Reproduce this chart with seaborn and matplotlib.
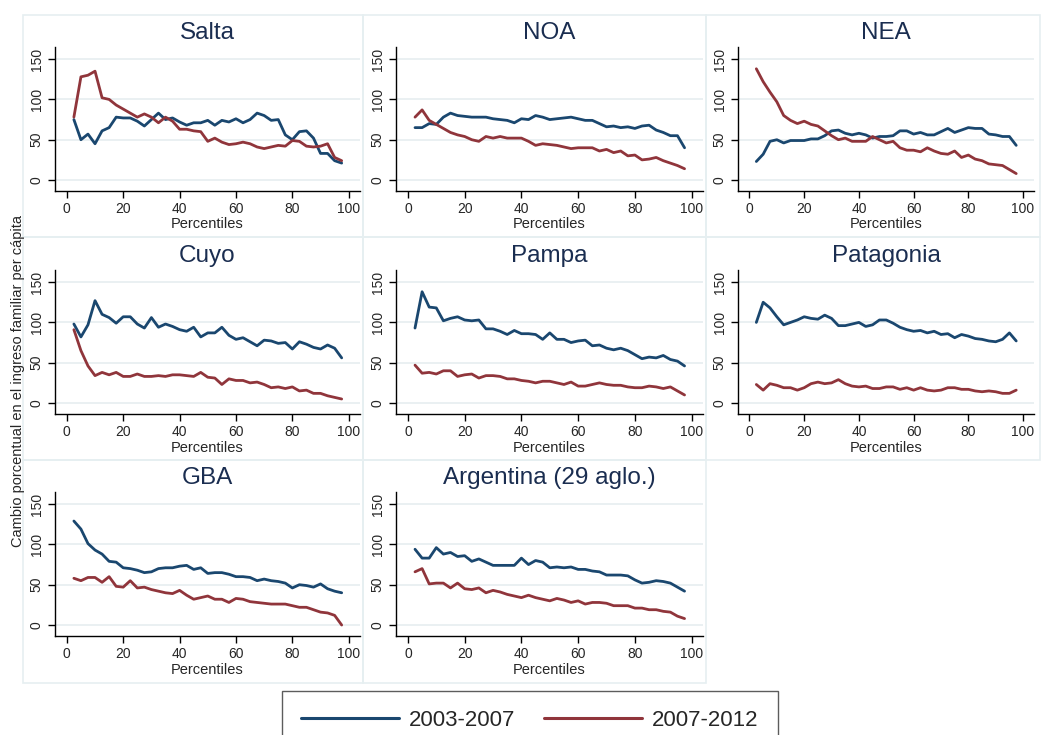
import numpy as np
import pandas as pd
import matplotlib
matplotlib.use("Agg")
import matplotlib.pyplot as plt
import seaborn as sns
from matplotlib.patches import Rectangle
from matplotlib.lines import Line2D

# Percentiles of the income distribution (x axis)
percentiles = [2.5, 5, 7.5, 10, 12.5, 15, 17.5, 20, 22.5, 25, 27.5, 30, 32.5,
               35, 37.5, 40, 42.5, 45, 47.5, 50, 52.5, 55, 57.5, 60, 62.5, 65,
               67.5, 70, 72.5, 75, 77.5, 80, 82.5, 85, 87.5, 90, 92.5, 95, 97.5]
periods = ["2003-2007", "2007-2012"]
regions = ["Salta", "NOA", "NEA", "Cuyo", "Pampa", "Patagonia", "GBA",
           "Argentina (29 aglo.)"]

salta_0307 = [75, 50, 57, 45, 61, 65, 78, 77, 77, 73, 67, 75, 83, 75, 77, 72, 68, 71, 71, 74,
              68, 74, 72, 76, 71, 75, 83, 80, 74, 75, 56, 50, 60, 61, 52, 33, 33, 24, 21]
salta_0712 = [78, 128, 130, 135, 102, 100, 93, 88, 83, 78, 82, 78, 71, 78, 73, 63, 63, 61, 60, 48,
              52, 47, 44, 45, 47, 45, 41, 39, 41, 43, 42, 49, 48, 42, 41, 42, 45, 28, 24]
noa_0307 = [65, 65, 70, 69, 78, 83, 80, 79, 78, 78, 78, 76, 75, 74, 71, 76, 75, 80, 78, 75,
            76, 77, 78, 76, 74, 74, 70, 66, 67, 65, 66, 64, 67, 68, 62, 59, 55, 55, 40]
noa_0712 = [78, 87, 74, 69, 64, 59, 56, 54, 50, 48, 54, 52, 54, 52, 52, 52, 48, 43, 45, 44,
            43, 41, 39, 40, 40, 40, 36, 38, 34, 36, 30, 31, 25, 26, 28, 24, 21, 18, 14]
nea_0307 = [23, 32, 48, 50, 46, 49, 49, 49, 51, 51, 55, 61, 62, 58, 56, 58, 56, 52, 54, 54,
            55, 61, 61, 57, 59, 56, 56, 60, 64, 59, 62, 65, 64, 64, 57, 56, 54, 54, 43]
nea_0712 = [138, 122, 109, 97, 80, 74, 70, 73, 69, 67, 61, 55, 50, 52, 48, 48, 48, 54, 50, 46,
            48, 40, 37, 37, 35, 40, 36, 33, 32, 36, 28, 31, 26, 24, 20, 19, 18, 13, 8]
cuyo_0307 = [98, 82, 97, 127, 110, 106, 99, 107, 107, 98, 93, 106, 94, 98, 95, 91, 89, 94, 82, 87,
             87, 94, 84, 79, 81, 76, 71, 78, 77, 74, 75, 67, 76, 73, 69, 67, 72, 68, 56]
cuyo_0712 = [91, 65, 46, 34, 38, 35, 38, 33, 33, 36, 33, 33, 34, 33, 35, 35, 34, 33, 38, 32,
             31, 23, 30, 28, 28, 25, 26, 23, 19, 20, 18, 20, 15, 16, 12, 12, 9, 7, 5]
pampa_0307 = [93, 138, 119, 118, 102, 105, 107, 103, 102, 103, 92, 92, 89, 85, 90, 86, 86, 85, 79, 87,
              79, 79, 75, 77, 78, 71, 72, 68, 66, 68, 65, 60, 55, 57, 56, 59, 54, 52, 46]
pampa_0712 = [47, 37, 38, 36, 40, 40, 33, 35, 36, 31, 34, 34, 33, 30, 30, 28, 27, 25, 27, 27,
              25, 23, 26, 21, 21, 23, 25, 23, 22, 22, 20, 19, 19, 21, 20, 18, 20, 15, 10]
patagonia_0307 = [100, 125, 118, 107, 97, 100, 103, 107, 105, 104, 109, 105, 96, 96, 98, 100, 95, 97, 103, 103,
                  99, 94, 91, 89, 90, 87, 89, 85, 86, 81, 85, 83, 80, 79, 77, 76, 79, 87, 77]
patagonia_0712 = [23, 16, 24, 22, 19, 19, 16, 19, 24, 26, 24, 25, 29, 24, 21, 20, 21, 18, 18, 20,
                  20, 17, 19, 16, 19, 16, 15, 16, 19, 19, 17, 17, 15, 14, 15, 14, 12, 12, 16]
gba_0307 = [129, 119, 101, 93, 88, 79, 78, 71, 70, 68, 65, 66, 70, 71, 71, 73, 74, 69, 71, 64,
            65, 65, 63, 60, 60, 59, 55, 57, 55, 54, 52, 46, 50, 49, 47, 51, 45, 42, 40]
gba_0712 = [58, 55, 59, 59, 53, 60, 48, 47, 55, 46, 47, 44, 42, 40, 39, 43, 37, 32, 34, 36,
            32, 32, 28, 33, 32, 29, 28, 27, 26, 26, 26, 24, 22, 22, 19, 16, 15, 12, 0]
argentina_0307 = [94, 83, 83, 96, 88, 90, 85, 86, 79, 82, 78, 74, 74, 74, 74, 83, 75, 80, 78, 71,
                  72, 71, 72, 69, 69, 67, 66, 62, 62, 62, 61, 56, 52, 53, 55, 54, 52, 47, 42]
argentina_0712 = [66, 70, 51, 52, 52, 46, 52, 45, 44, 46, 40, 43, 41, 38, 36, 34, 37, 34, 32, 30,
                  33, 31, 28, 30, 26, 28, 28, 27, 24, 24, 24, 21, 21, 19, 19, 17, 16, 11, 8]

series = {
    "Salta": (salta_0307, salta_0712),
    "NOA": (noa_0307, noa_0712),
    "NEA": (nea_0307, nea_0712),
    "Cuyo": (cuyo_0307, cuyo_0712),
    "Pampa": (pampa_0307, pampa_0712),
    "Patagonia": (patagonia_0307, patagonia_0712),
    "GBA": (gba_0307, gba_0712),
    "Argentina (29 aglo.)": (argentina_0307, argentina_0712),
}

rows = []
for region, pair in series.items():
    for period, vals in zip(periods, pair):
        for p, v in zip(percentiles, vals):
            rows.append((region, period, p, v))
df = pd.DataFrame(rows, columns=["region", "period", "percentil", "cambio"])

colors = {"2003-2007": "#1a476f", "2007-2012": "#90353b"}

sns.set_theme(style="white")
plt.rcParams["font.family"] = ["Liberation Sans", "DejaVu Sans"]

W, H = 1046, 735
fig = plt.figure(figsize=(W / 100, H / 100), dpi=100)
fig.patch.set_facecolor("white")


def fig_rect(x0, x1, y0, y1):
    return [x0 / W, 1 - y1 / H, (x1 - x0) / W, (y1 - y0) / H]


# pixel layout of the combined graph
col_box = [(23, 363), (363, 706), (706, 1040)]
row_box = [(15, 237), (237, 460), (460, 683)]
col_ax = [(55, 360), (396, 703), (738, 1034)]
row_ax = [(47, 191), (270, 414), (492, 636)]

for i, region in enumerate(regions):
    r, c = divmod(i, 3)
    bx, by = col_box[c], row_box[r]
    fig.add_artist(Rectangle((bx[0] / W, 1 - by[1] / H), (bx[1] - bx[0]) / W,
                             (by[1] - by[0]) / H, transform=fig.transFigure,
                             fill=False, edgecolor="#e6eff1", lw=1.2))

    ax = fig.add_axes(fig_rect(col_ax[c][0], col_ax[c][1], row_ax[r][0], row_ax[r][1]))
    sns.lineplot(data=df[df.region == region], x="percentil", y="cambio",
                 hue="period", palette=colors, linewidth=2.0, ax=ax, legend=False)
    ax.set_xlim(-4.2, 104)
    ax.set_ylim(-13.6, 165)
    ax.set_xticks([0, 20, 40, 60, 80, 100])
    ax.set_yticks([0, 50, 100, 150])
    ax.yaxis.grid(True, color="#e6eef0", lw=1.2)
    ax.xaxis.grid(False)
    ax.set_axisbelow(True)
    for s in ["top", "right"]:
        ax.spines[s].set_visible(False)
    for s in ["left", "bottom"]:
        ax.spines[s].set_color("black")
        ax.spines[s].set_linewidth(1)
    ax.tick_params(direction="out", length=5, width=1, color="black",
                   labelsize=10, bottom=True, left=True, pad=3)
    ax.tick_params(axis="y", labelrotation=90)
    for lbl in ax.get_yticklabels():
        lbl.set_va("center")
    ax.set_xlabel("Percentiles", fontsize=10.5, labelpad=1)
    ax.set_ylabel("")
    ax.set_title(region, fontsize=17.5, color="#1a2d50", pad=6)

fig.text(18 / W, 1 - 381 / H, "Cambio porcentual en el ingreso familiar per cápita",
         rotation=90, ha="center", va="center", fontsize=10.5)

handles = [Line2D([], [], color=colors[p], lw=2.2) for p in periods]
leg = fig.legend(handles, periods, loc="upper center", ncol=2,
                 bbox_to_anchor=(530 / W, 1 - 691 / H), fontsize=16,
                 handlelength=4.4, handletextpad=0.45, columnspacing=1.3,
                 frameon=True, fancybox=False, borderpad=0.85, borderaxespad=0)
leg.get_frame().set_edgecolor("#333333")
leg.get_frame().set_linewidth(1)

fig.savefig("out.png", dpi=100, facecolor="white")
